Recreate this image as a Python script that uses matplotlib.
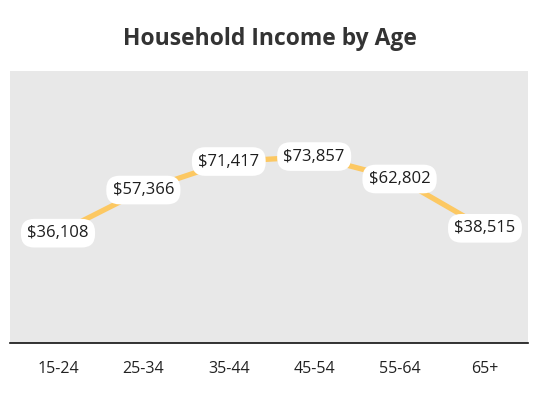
import matplotlib.pyplot as plt

# data
ages = ["15-24", "25-34", "35-44", "45-54", "55-64", "65+"]
income = [36108, 57366, 71417, 73857, 62802, 38515]

plt.rcParams['font.family'] = ['Open Sans', 'DejaVu Sans']

fig = plt.figure(figsize=(5.4, 3.93), dpi=100)
ax = fig.add_axes([0.0185, 0.1272, 0.9593, 0.6921])
ax.set_facecolor("#e8e8e8")

x = list(range(len(ages)))
ax.plot(x, income, color="#fcc862", linewidth=3.8, solid_capstyle="butt", zorder=2)

# value labels in white pills
for xi, v in zip(x, income):
    ax.text(xi, v, f"${v:,}", ha="center", va="center", fontsize=12, color="#1e1e1e",
            zorder=3,
            bbox=dict(boxstyle="round,pad=0.38,rounding_size=0.8", fc="white", ec="none"))

ax.set_xlim(-0.562, 5.504)
ax.set_ylim(-18000, 116000)
ax.set_xticks(x)
ax.set_xticklabels(ages, fontsize=11.5, color="#222222")
ax.tick_params(axis="x", length=0, pad=13)
ax.set_yticks([])

for side in ["top", "left", "right"]:
    ax.spines[side].set_visible(False)
ax.spines["bottom"].set_color("#111111")
ax.spines["bottom"].set_linewidth(1.2)

fig.text(0.5, 0.902, "Household Income by Age", ha="center", va="center",
         fontsize=16.5, fontweight="bold", color="#333333")

fig.savefig("out.png", dpi=100)
